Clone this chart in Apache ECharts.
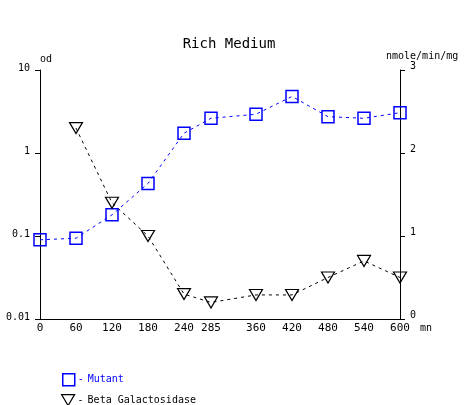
<!DOCTYPE html>
<html><head><meta charset="utf-8">
<script src="https://cdn.jsdelivr.net/npm/echarts@6/dist/echarts.min.js"></script>
<style>html,body{margin:0;padding:0;background:#fff}#c{width:472px;height:405px}</style>
</head><body><div id="c"></div>
<script>
const times = [0, 60, 120, 180, 240, 285, 360, 420, 480, 540, 600];
const tickLabels = [0, 60, 120, 180, 240, 285, 360, 420, 480, 540, 600];
const mutant = [0.09, 0.094, 0.18, 0.43, 1.73, 2.62, 2.93, 4.8, 2.74, 2.62, 3.06];
const betaTimes = [60, 120, 180, 240, 285, 360, 420, 480, 540, 600];
const betaGal = [2.30, 1.40, 1.00, 0.30, 0.20, 0.29, 0.29, 0.50, 0.70, 0.50];

const mono = 'DejaVu Sans Mono';
const downTri = 'path://M0,0 L13,0 L6.5,11 Z';
const legendRich = c => ({d: {fontFamily: mono, fontSize: 10, color: c, width: 6, padding: [0, 0, 0, -2]},
                         t: {fontFamily: mono, fontSize: 10, color: c, padding: [0, 0, 0, 4]}});
const chart = echarts.init(document.getElementById('c'));
chart.setOption({
  animation: false,
  backgroundColor: '#fff',
  title: {text: 'Rich Medium', left: 224, top: 32, textAlign: 'center',
    textStyle: {fontFamily: mono, fontWeight: 'normal', fontSize: 14, color: '#000'}},
  grid: {left: 40, right: 72, top: 70, bottom: 86},
  legend: [{
    left: 62, top: 373, padding: 0, itemWidth: 12, itemHeight: 12,
    textStyle: {fontFamily: mono, fontSize: 10, color: '#0000ff', rich: legendRich('#0000ff')},
    itemStyle: {color: 'rgba(0,0,0,0)', borderColor: '#0000ff', borderWidth: 1.5},
    formatter: n => '{d|-}{t|' + n + '}',
    data: [{name: 'Mutant', icon: 'rect'}]
  }, {
    left: 61, top: 394, padding: 0, itemWidth: 13, itemHeight: 11,
    textStyle: {fontFamily: mono, fontSize: 10, color: '#000', rich: legendRich('#000')},
    itemStyle: {color: 'rgba(0,0,0,0)', borderColor: '#000', borderWidth: 1.2},
    formatter: n => '{d|-}{t|' + n + '}',
    data: [{name: 'Beta Galactosidase', icon: downTri}]
  }],
  xAxis: {
    type: 'value', min: 0, max: 600, name: 'mn', nameGap: 20,
    nameTextStyle: {fontFamily: mono, fontSize: 10, color: '#000', align: 'left', verticalAlign: 'top', padding: [4,0,0,0]},
    axisLine: {lineStyle: {color: '#000'}},
    axisTick: {show: false},
    splitLine: {show: false},
    axisLabel: {customValues: tickLabels, fontFamily: mono, fontSize: 11, color: '#000', margin: 4, showMinLabel: true, showMaxLabel: true}
  },
  yAxis: [{
    type: 'log', logBase: 10, min: 0.01, max: 10, name: 'od', nameGap: 6,
    nameTextStyle: {fontFamily: mono, fontSize: 10, color: '#000', align: 'left', padding: [0,0,0,0]},
    axisLine: {show: true, lineStyle: {color: '#000'}},
    axisTick: {show: true, length: 5, lineStyle: {color: '#000'}},
    splitLine: {show: false},
    axisLabel: {margin: 10,
      formatter: v => '{a|' + (({0.01: '0.01', 0.1: '0.1', 1: '1', 10: '10'})[v] ?? String(v)) + '}',
      rich: {a: {fontFamily: mono, fontSize: 10, color: '#000', padding: [0, 0, 3, 0]}}}
  }, {
    type: 'value', min: 0, max: 3, interval: 1, position: 'right', name: 'nmole/min/mg', nameGap: 6,
    nameTextStyle: {fontFamily: mono, fontSize: 10, color: '#000', align: 'left', padding: [0,0,0,-14]},
    axisLine: {show: true, lineStyle: {color: '#000'}},
    axisTick: {show: true, length: 5, lineStyle: {color: '#000'}},
    splitLine: {show: false},
    axisLabel: {margin: 10, formatter: v => '{a|' + v + '}',
      rich: {a: {fontFamily: mono, fontSize: 10, color: '#000', padding: [0, 0, 7, 0]}}}
  }],
  series: [{
    name: 'Mutant', type: 'line', yAxisIndex: 0,
    data: times.map((t, i) => [t, mutant[i]]),
    symbol: 'rect', symbolSize: 12,
    itemStyle: {color: 'rgba(0,0,0,0)', borderColor: '#0000ff', borderWidth: 1.5},
    lineStyle: {color: '#0000ff', width: 1, type: [3, 4]}
  }, {
    name: 'Beta Galactosidase', type: 'line', yAxisIndex: 1,
    data: betaTimes.map((t, i) => [t, betaGal[i]]),
    symbol: 'triangle', symbolRotate: 180, symbolSize: [13, 11],
    itemStyle: {color: 'rgba(0,0,0,0)', borderColor: '#000', borderWidth: 1.2},
    lineStyle: {color: '#000', width: 1, type: [3, 4]}
  }]
});
</script></body></html>
